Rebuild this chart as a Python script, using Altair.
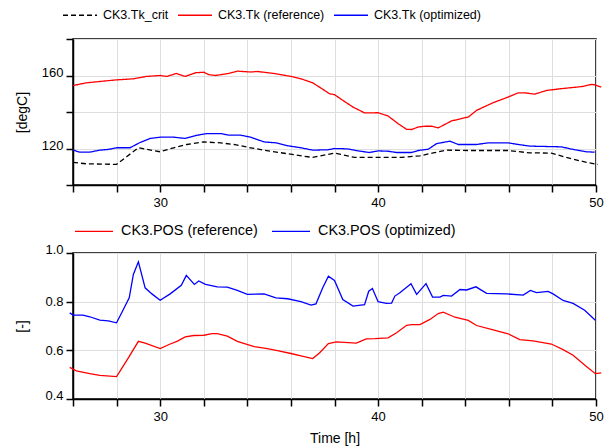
import altair as alt
import pandas as pd

# ---------------- data ----------------
tk_crit_t = [26.0, 26.62, 28.0, 28.46, 29.0, 30.0, 30.62, 31.23, 32.0, 32.77, 33.38, 34.15, 34.77,
             35.85, 37.0, 38.0, 38.92, 40.0, 41.08, 41.92, 42.53, 43.15, 44.21, 45.97, 46.96,
             47.95, 48.64, 49.56, 50.09]
tk_crit = [112.4, 111.6, 111.3, 115.5, 120.4, 118.2, 120.4, 122.2, 123.6, 123.1, 122.2, 120.4, 119.1,
           117.1, 115.1, 117.5, 115.1, 115.1, 115.1, 116.0, 117.6, 119.1, 118.9, 118.9, 117.6,
           117.5, 115.1, 112.4, 111.3]

tk_ref_t = [26.0, 26.62, 27.38, 28.0, 28.77, 29.38, 30.0, 30.31, 30.74, 31.15, 31.62, 32.0, 32.23,
            32.54, 33.08, 33.54, 34.15, 34.46, 35.23, 36.0, 36.46, 37.0, 37.38, 37.77, 38.0, 38.38,
            38.85, 39.38, 40.0, 40.46, 40.92, 41.31, 41.54, 41.85, 42.15, 42.46, 42.76, 43.37,
            44.15, 44.52, 45.28, 45.97, 46.43, 46.73, 47.19, 47.73, 48.34, 49.4, 49.79, 49.94, 50.24]
tk_ref = [154.5, 156.0, 156.9, 157.6, 158.2, 159.5, 160.0, 159.5, 161.1, 159.5, 161.5, 161.8, 160.5,
          160.0, 161.0, 162.4, 161.9, 162.2, 161.1, 159.5, 158.2, 156.0, 153.1, 150.0, 149.5, 146.4,
          142.7, 139.5, 139.6, 137.8, 133.6, 130.5, 130.4, 131.8, 132.2, 132.2, 131.3, 135.1,
          137.3, 140.9, 145.1, 148.2, 150.5, 150.5, 149.8, 151.8, 152.7, 154.0, 155.1, 154.9, 153.6]

tk_opt_t = [26.0, 26.31, 26.77, 27.23, 27.62, 28.0, 28.62, 29.08, 29.54, 30.0, 30.62, 31.15, 31.62,
            32.15, 32.77, 33.15, 33.69, 34.15, 34.77, 35.31, 35.85, 36.46, 37.0, 37.7, 38.0, 38.6,
            39.08, 39.6, 40.0, 40.46, 40.85, 41.54, 41.85, 42.3, 42.69, 43.3, 43.68, 44.52, 45.05,
            45.97, 46.43, 46.96, 48.41, 48.95, 49.56, 49.94]
tk_opt = [119.1, 118.0, 118.0, 119.1, 119.5, 120.4, 120.4, 123.3, 125.5, 126.2, 126.2, 125.5, 127.1,
          128.2, 128.2, 127.3, 127.3, 126.2, 123.6, 123.1, 121.5, 120.4, 119.1, 119.3, 120.0, 119.8,
          118.7, 117.8, 118.7, 118.5, 117.8, 117.8, 118.9, 119.6, 122.7, 124.0, 122.2, 122.2, 123.1,
          123.1, 122.2, 121.3, 120.9, 119.5, 118.2, 118.0]

pos_ref_t = [25.85, 26.15, 26.77, 27.23, 28.0, 28.54, 29.0, 29.31, 30.0, 30.46, 30.77, 31.15, 31.54,
             32.0, 32.38, 32.62, 33.08, 33.54, 34.31, 34.92, 35.38, 36.0, 36.46, 37.0, 37.31, 37.72,
             38.08, 39.0, 39.46, 39.85, 40.46, 40.85, 41.31, 41.54, 41.92, 42.38, 42.76, 42.99,
             43.53, 44.14, 44.52, 45.28, 45.97, 46.5, 47.11, 47.95, 48.49, 48.95, 49.56, 49.97, 50.24]
pos_ref = [0.530, 0.516, 0.504, 0.497, 0.492, 0.569, 0.637, 0.630, 0.607, 0.626, 0.637, 0.655, 0.661,
           0.662, 0.669, 0.669, 0.658, 0.637, 0.615, 0.607, 0.599, 0.587, 0.577, 0.566, 0.589, 0.628,
           0.635, 0.630, 0.647, 0.648, 0.651, 0.672, 0.703, 0.706, 0.706, 0.727, 0.751, 0.757,
           0.736, 0.723, 0.702, 0.684, 0.668, 0.644, 0.639, 0.626, 0.603, 0.580, 0.534, 0.504, 0.507]

pos_opt_t = [25.85, 26.0, 26.46, 26.77, 27.23, 27.62, 28.0, 28.31, 28.58, 28.77, 29.0, 29.31, 29.62,
             30.0, 30.46, 30.97, 31.2, 31.57, 31.77, 32.08, 32.62, 33.08, 33.54, 34.0, 34.77, 35.31,
             35.85, 36.46, 36.92, 37.15, 37.46, 37.72, 38.0, 38.38, 38.85, 39.38, 39.57, 39.74, 40.0,
             40.38, 40.62, 40.77, 41.0, 41.51, 41.77, 42.2, 42.5, 42.84, 42.99, 43.37, 43.76, 44.06,
             44.49, 44.98, 45.89, 46.66, 46.99, 47.27, 47.8, 48.03, 48.49, 48.95, 49.48, 49.97]
pos_opt = [0.754, 0.745, 0.745, 0.738, 0.724, 0.721, 0.713, 0.768, 0.816, 0.912, 0.964, 0.857, 0.832,
           0.806, 0.832, 0.867, 0.908, 0.871, 0.885, 0.871, 0.861, 0.860, 0.846, 0.830, 0.832, 0.816,
           0.812, 0.800, 0.786, 0.791, 0.857, 0.905, 0.887, 0.809, 0.782, 0.788, 0.843, 0.854, 0.800,
           0.793, 0.794, 0.823, 0.837, 0.874, 0.830, 0.874, 0.819, 0.819, 0.826, 0.823, 0.850, 0.848,
           0.861, 0.834, 0.832, 0.827, 0.846, 0.837, 0.842, 0.832, 0.805, 0.793, 0.765, 0.724]

top_names = ["CK3.Tk_crit", "CK3.Tk (reference)", "CK3.Tk (optimized)"]
bot_names = ["CK3.POS (reference)", "CK3.POS (optimized)"]
x_ticks = [26, 28, 30, 32, 34, 36, 38, 40, 42, 44, 46, 48, 50]
top_y_ticks = [100, 120, 140, 160, 180]
bot_y_ticks = [0.4, 0.6, 0.8, 1.0]

# ---------------- tables ----------------
def series(ts, vs, name):
    return pd.DataFrame({"t": ts, "v": vs, "series": name})

top_df = pd.concat([series(tk_crit_t, tk_crit, top_names[0]),
                    series(tk_ref_t, tk_ref, top_names[1]),
                    series(tk_opt_t, tk_opt, top_names[2])], ignore_index=True)
bot_df = pd.concat([series(pos_ref_t, pos_ref, bot_names[0]),
                    series(pos_opt_t, pos_opt, bot_names[1])], ignore_index=True)

FONT = "Liberation Sans"
W, H = 523, 146

x_scale = alt.Scale(domain=[26, 50], nice=False, zero=False)
x_label_expr = "datum.value % 10 == 0 ? datum.label : ''"

top_legend = alt.Legend(orient="none", legendX=-11, legendY=-42, direction="horizontal", title=None,
                        symbolType="stroke", symbolSize=1156, symbolStrokeWidth=1.3,
                        labelFont=FONT, labelFontSize=12.5, labelColor="black",
                        labelOffset=5, columnPadding=6, padding=0)
bot_legend = alt.Legend(orient="none", legendX=1, legendY=-42, direction="horizontal", title=None,
                        symbolType="stroke", symbolSize=1444, symbolStrokeWidth=1.3,
                        labelFont=FONT, labelFontSize=14.4, labelColor="black",
                        labelOffset=7, columnPadding=11, padding=0)

top = alt.Chart(top_df).mark_line(strokeWidth=1.3, clip=False).encode(
    x=alt.X("t:Q", scale=x_scale,
            axis=alt.Axis(values=x_ticks, labelExpr=x_label_expr, title=None)),
    y=alt.Y("v:Q", scale=alt.Scale(domain=[100, 180], nice=False, zero=False),
            axis=alt.Axis(values=top_y_ticks, title="[degC]",
                          labelExpr="datum.value == 120 || datum.value == 160 ? datum.label : ''",
                          labelBaseline="alphabetic", labelOffset=1)),
    color=alt.Color("series:N", scale=alt.Scale(domain=top_names, range=["black", "#ff0000", "#0000ff"]),
                    legend=top_legend),
    strokeDash=alt.StrokeDash("series:N", scale=alt.Scale(domain=top_names, range=[[5, 3], [1, 0], [1, 0]]),
                              legend=top_legend),
    order=alt.Order("t:Q"),
).properties(width=W, height=H)

bot = alt.Chart(bot_df).mark_line(strokeWidth=1.3, clip=False).encode(
    x=alt.X("t:Q", scale=x_scale,
            axis=alt.Axis(values=x_ticks, labelExpr=x_label_expr, title="Time [h]")),
    y=alt.Y("v:Q", scale=alt.Scale(domain=[0.4, 1.0], nice=False, zero=False),
            axis=alt.Axis(values=bot_y_ticks, format=".1f", title="[-]",
                          labelBaseline={"condition": {"test": "datum.value < 0.5 || datum.value > 0.9",
                                                       "value": "alphabetic"},
                                         "value": "middle"})),
    color=alt.Color("series:N", scale=alt.Scale(domain=bot_names, range=["#ff0000", "#0000ff"]),
                    legend=bot_legend),
    order=alt.Order("t:Q"),
).properties(width=W, height=H)

chart = alt.vconcat(top, bot, spacing=0).resolve_scale(
    color="independent", strokeDash="independent", x="independent", y="independent"
).resolve_legend(color="independent", strokeDash="independent").properties(
    padding={"left": 6, "top": -12, "right": 0, "bottom": 0}
).configure_view(
    stroke="black", strokeWidth=1.5
).configure_axis(
    grid=True, gridColor="#dedede", gridWidth=1,
    domainColor="black", domainWidth=1.5,
    tickColor="black", tickWidth=1.5, tickSize=7,
    labelFont=FONT, labelFontSize=13, labelColor="black", labelPadding=3,
    titleFont=FONT, titleFontSize=14, titleFontWeight="normal", titleColor="black",
    labelFlush=False, labelOverlap=False,
).configure_axisY(
    minExtent=33, maxExtent=33, titlePadding=11,
).configure_axisX(
    labelPadding=4, titlePadding=8,
)

chart.save("out.html", embed_options={"renderer": "svg", "actions": False})
